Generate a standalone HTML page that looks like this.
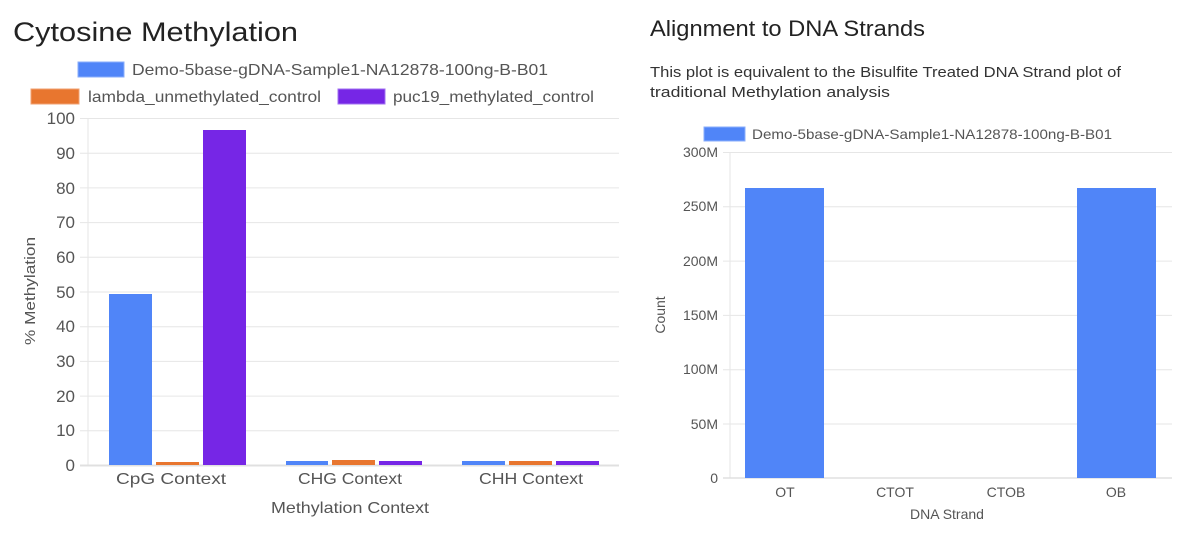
<!DOCTYPE html>
<html><head><meta charset="utf-8"><style>
html,body{margin:0;padding:0;background:#fff;width:1200px;height:547px;overflow:hidden}
svg{font-family:"Liberation Sans",sans-serif}
</style></head><body>
<svg width="1200" height="547" viewBox="0 0 1200 547" xmlns="http://www.w3.org/2000/svg">
<text x="13" y="41" font-size="27" fill="#222" textLength="285" lengthAdjust="spacingAndGlyphs">Cytosine Methylation</text>
<text x="650" y="36" font-size="22" fill="#222" textLength="275" lengthAdjust="spacingAndGlyphs">Alignment to DNA Strands</text>
<text x="650" y="77" font-size="15" fill="#333" textLength="471" lengthAdjust="spacingAndGlyphs">This plot is equivalent to the Bisulfite Treated DNA Strand plot of</text>
<text x="650" y="97" font-size="15" fill="#333" textLength="240" lengthAdjust="spacingAndGlyphs">traditional Methylation analysis</text>

<!-- left legend -->
<rect x="78" y="62" width="46" height="15" fill="#5085f8" stroke="#8aaefb"/>
<text x="132" y="75" font-size="16" fill="#555" textLength="416" lengthAdjust="spacingAndGlyphs">Demo-5base-gDNA-Sample1-NA12878-100ng-B-B01</text>
<rect x="31" y="89" width="48" height="15" fill="#e8762f" stroke="#f0a070"/>
<text x="88" y="102" font-size="16" fill="#555" textLength="233" lengthAdjust="spacingAndGlyphs">lambda_unmethylated_control</text>
<rect x="338" y="89" width="47" height="15" fill="#7626e6" stroke="#a070f0"/>
<text x="393" y="102" font-size="16" fill="#555" textLength="201" lengthAdjust="spacingAndGlyphs">puc19_methylated_control</text>

<!-- left grid -->
<g stroke="#e6e6e6" stroke-width="1">
<line x1="80" x2="619" y1="118.5" y2="118.5"/>
<line x1="80" x2="619" y1="153.2" y2="153.2"/>
<line x1="80" x2="619" y1="187.9" y2="187.9"/>
<line x1="80" x2="619" y1="222.6" y2="222.6"/>
<line x1="80" x2="619" y1="257.3" y2="257.3"/>
<line x1="80" x2="619" y1="292" y2="292"/>
<line x1="80" x2="619" y1="326.7" y2="326.7"/>
<line x1="80" x2="619" y1="361.4" y2="361.4"/>
<line x1="80" x2="619" y1="396.1" y2="396.1"/>
<line x1="80" x2="619" y1="430.8" y2="430.8"/>
<line x1="88" x2="88" y1="118" y2="466"/>
</g>
<line x1="80" x2="619" y1="465.5" y2="465.5" stroke="#e0e0e0" stroke-width="2"/>
<g font-size="17" fill="#555" text-anchor="end">
<text x="75" y="124">100</text><text x="75" y="159">90</text><text x="75" y="194">80</text>
<text x="75" y="228">70</text><text x="75" y="263">60</text><text x="75" y="298">50</text>
<text x="75" y="332">40</text><text x="75" y="367">30</text><text x="75" y="402">20</text>
<text x="75" y="436">10</text><text x="75" y="471">0</text>
</g>
<!-- left bars -->
<rect x="109" y="294" width="43" height="171" fill="#5085f8"/>
<rect x="156" y="462" width="43" height="3" fill="#e8762f"/>
<rect x="203" y="130" width="43" height="335" fill="#7626e6"/>
<rect x="286" y="461" width="42" height="4" fill="#5085f8"/>
<rect x="332" y="460" width="43" height="5" fill="#e8762f"/>
<rect x="379" y="461" width="43" height="4" fill="#7626e6"/>
<rect x="462" y="461" width="43" height="4" fill="#5085f8"/>
<rect x="509" y="461" width="43" height="4" fill="#e8762f"/>
<rect x="556" y="461" width="43" height="4" fill="#7626e6"/>
<g font-size="16" fill="#555" text-anchor="middle">
<text x="171" y="484" textLength="110" lengthAdjust="spacingAndGlyphs">CpG Context</text>
<text x="350" y="484" textLength="104" lengthAdjust="spacingAndGlyphs">CHG Context</text>
<text x="531" y="484" textLength="104" lengthAdjust="spacingAndGlyphs">CHH Context</text>
<text x="350" y="513" textLength="158" lengthAdjust="spacingAndGlyphs">Methylation Context</text>
</g>
<text transform="translate(35,291) rotate(-90)" font-size="15" fill="#555" text-anchor="middle" textLength="108" lengthAdjust="spacingAndGlyphs">% Methylation</text>

<!-- right legend -->
<rect x="704" y="127" width="41" height="14" fill="#5085f8" stroke="#8aaefb"/>
<text x="752" y="139" font-size="14" fill="#555" textLength="360" lengthAdjust="spacingAndGlyphs">Demo-5base-gDNA-Sample1-NA12878-100ng-B-B01</text>
<!-- right grid -->
<g stroke="#e6e6e6" stroke-width="1">
<line x1="723" x2="1172" y1="152.5" y2="152.5"/>
<line x1="723" x2="1172" y1="206.8" y2="206.8"/>
<line x1="723" x2="1172" y1="261.1" y2="261.1"/>
<line x1="723" x2="1172" y1="315.4" y2="315.4"/>
<line x1="723" x2="1172" y1="369.7" y2="369.7"/>
<line x1="723" x2="1172" y1="424" y2="424"/>
<line x1="730" x2="730" y1="152" y2="478"/>
</g>
<line x1="723" x2="1172" y1="478" y2="478" stroke="#e0e0e0" stroke-width="1.5"/>
<g font-size="14" fill="#555" text-anchor="end">
<text x="718" y="157">300M</text><text x="718" y="211">250M</text><text x="718" y="266">200M</text>
<text x="718" y="320">150M</text><text x="718" y="374">100M</text><text x="718" y="429">50M</text>
<text x="718" y="483">0</text>
</g>
<rect x="745" y="188" width="79" height="290" fill="#5085f8"/>
<rect x="1077" y="188" width="79" height="290" fill="#5085f8"/>
<g font-size="14" fill="#555" text-anchor="middle">
<text x="785" y="497">OT</text><text x="895" y="497">CTOT</text>
<text x="1006" y="497">CTOB</text><text x="1116" y="497">OB</text>
<text x="947" y="519">DNA Strand</text>
</g>
<text transform="translate(665,315) rotate(-90)" font-size="14" fill="#555" text-anchor="middle">Count</text>
</svg>
</body></html>
